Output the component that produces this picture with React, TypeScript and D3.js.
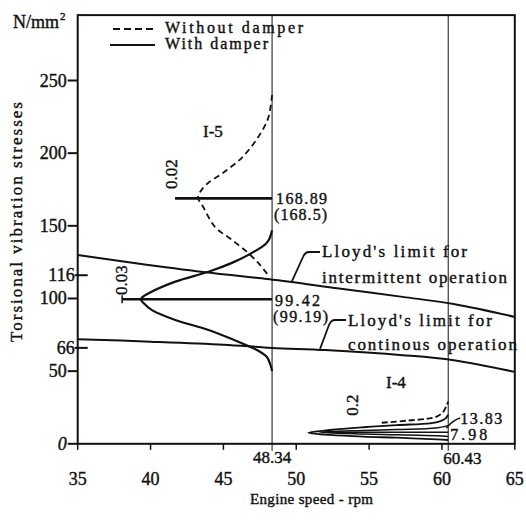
import React from 'react';
import * as d3 from 'd3';

// ---- data ----
const xTicks = [35, 40, 45, 50, 55, 60, 65];
const yTicks = [0, 50, 100, 150, 200, 250];
const yMarks = [66, 116];
const resonanceSpeeds = [48.34, 60.43];

// I-5 order, without damper (dashed)
const i5WithoutRpm = [48.34, 48.07, 47.38, 46.28, 44.91, 43.95, 43.4, 43.26, 43.54, 44.43, 45.59, 46.69, 47.51, 48.07, 48.2];
const i5WithoutStress = [240, 224, 211, 197, 186, 179.5, 173.3, 169, 164.3, 149.2, 140.3, 131.4, 123.1, 116.2, 115];

// I-5 order, with damper (solid)
const i5WithRpm = [48.34, 48.15, 47.9, 46.72, 45.59, 43.98, 41.7, 39.87, 39.41, 39.33, 39.5, 40.1, 41.7, 43.98, 46.27, 47.3, 47.97, 48.27, 48.34];
const i5WithStress = [147, 141, 137.5, 130, 124.5, 118.4, 111.6, 103.6, 100.6, 99.42, 97, 92, 85.2, 78.3, 69.2, 64.6, 59.9, 53, 50];

// I-4 order, without damper (dashed)
const i4WithoutRpm = [55.87, 57.58, 59.0, 59.64, 60.1, 60.33, 60.43];
const i4WithoutStress = [14.5, 15.9, 17.3, 18.7, 22.1, 26.7, 29];

// I-4 order, with damper (solid, outer and inner)
const i4OuterRpm = [60.43, 60.25, 59.9, 59.18, 56.9, 54.61, 52.32, 50.83, 52.32, 54.61, 56.9, 59.64, 60.43];
const i4OuterStress = [20, 17.5, 15.6, 14.1, 12.9, 11.4, 9.5, 7.6, 6.1, 4.9, 4.2, 3.1, 2.6];
const i4InnerRpm = [60.43, 59.6, 56.9, 54.6, 51.6, 54.6, 56.9, 59.6, 60.43];
const i4InnerStress = [12.5, 10.8, 9.8, 9.2, 8.0, 6.8, 6.3, 5.6, 5.0];

// peak stress marks
const peakStress = [168.89, 99.42, 7.98];
const peakStartRpm = [41.68, 38.05, 52.3];
const peakEndRpm = [48.34, 48.34, 60.43];
const peakLabels = ['168.89', '99.42', '7.98'];
const peakLabelsWithout = ['(168.5)', '(99.19)'];

// Lloyd's limits
const lloydIntRpm = [35, 39, 43.6, 48, 49.7, 52.8, 57.3, 60.8, 65];
const lloydIntStress = [129.9, 124.2, 118.2, 113.4, 111.4, 107, 101.1, 96.2, 87.3];
const lloydContRpm = [35, 40, 45, 48.34, 52, 57.3, 60.8, 65];
const lloydContStress = [72, 70.3, 68.2, 66, 64.5, 61, 57.5, 49.5];

const FONT = "'Liberation Serif', 'Times New Roman', serif";
const INK = '#111';

const zip = (a: number[], b: number[]): [number, number][] => a.map((v, i) => [v, b[i]]);

export default function App() {
  const x = d3.scaleLinear().domain([35, 65]).range([77.7, 514.8]);
  const y = d3.scaleLinear().domain([0, 250]).range([443.8, 80.5]);
  const yTop = 295;
  const line = d3
    .line<[number, number]>()
    .x((d) => x(d[0]))
    .y((d) => y(d[1]))
    .curve(d3.curveCatmullRom.alpha(0.5));

  const x0 = x(35);
  const x1 = x(65);
  const yb = y(0);
  const yt = y(yTop);
  const r1 = x(resonanceSpeeds[0]);
  const r2 = x(resonanceSpeeds[1]);

  const base = { fontFamily: FONT, fill: INK, stroke: INK, strokeWidth: 0.4 };
  const txt = (props: any, s: string) => (
    <text {...base} {...props}>
      {s}
    </text>
  );
  const rot = (cx: number, cy: number, s: string) => (
    <text {...base} fontSize={17} textAnchor="middle" dominantBaseline="central" transform={`translate(${cx},${cy}) rotate(-90)`}>
      {s}
    </text>
  );

  return (
    <svg
      width={526}
      height={520}
      style={{ position: 'absolute', left: 0, top: 0, background: '#fff' }}
    >
      {/* resonance verticals */}
      {resonanceSpeeds.map((s) => (
        <line key={s} x1={x(s)} x2={x(s)} y1={yt} y2={yb + 7} stroke={INK} strokeWidth={1} />
      ))}

      {/* frame */}
      <rect x={x0} y={yt} width={x1 - x0} height={yb - yt} fill="none" stroke={INK} strokeWidth={2} />

      {/* y ticks */}
      {yTicks.map((t) => (
        <g key={t}>
          <line x1={x0 - 10} x2={x0} y1={y(t)} y2={y(t)} stroke={INK} strokeWidth={2} />
          {txt({ x: x0 - 11, y: y(t) + 6, textAnchor: 'end', fontSize: 18, fontStyle: t === 0 ? 'italic' : 'normal' }, String(t))}
        </g>
      ))}
      {yMarks.map((t) => (
        <g key={t}>
          <line x1={x0 - 3} x2={x0 + 10} y1={y(t)} y2={y(t)} stroke={INK} strokeWidth={2} />
          {txt({ x: x0 - 3, y: y(t) + 6, textAnchor: 'end', fontSize: 18 }, String(t))}
        </g>
      ))}

      {/* x ticks */}
      {xTicks.map((t) => (
        <g key={t}>
          <line x1={x(t)} x2={x(t)} y1={yb} y2={yb + 6} stroke={INK} strokeWidth={1.5} />
          {txt({ x: x(t), y: 485, textAnchor: 'middle', fontSize: 18 }, String(t))}
        </g>
      ))}
      {txt({ x: r1, y: 463, textAnchor: 'middle', fontSize: 17 }, '48.34')}
      {txt({ x: r2 - 5, y: 464, fontSize: 17 }, '60.43')}

      {/* axis titles */}
      {txt({ x: 250, y: 504, fontSize: 15, textLength: 123, lengthAdjust: 'spacing' }, 'Engine speed - rpm')}
      <text
        {...base}
        fontSize={17}
        textAnchor="middle"
        transform={`translate(22,222) rotate(-90)`}
        textLength={240}
        lengthAdjust="spacing"
      >
        Torsional vibration stresses
      </text>
      <text {...base} x={13} y={28} fontSize={18}>
        N/mm
        <tspan fontSize={11} dy={-8} dx={1}>2</tspan>
      </text>

      {/* legend */}
      <line x1={113} x2={153} y1={29} y2={29} stroke={INK} strokeWidth={2} strokeDasharray="7 4" />
      <line x1={110} x2={155} y1={45} y2={45} stroke={INK} strokeWidth={2} />
      {txt({ x: 165, y: 33, fontSize: 16, textLength: 138, lengthAdjust: 'spacing' }, 'Without damper')}
      {txt({ x: 165, y: 49, fontSize: 16, textLength: 103, lengthAdjust: 'spacing' }, 'With damper')}

      {/* Lloyd's limits */}
      <path d={line(zip(lloydIntRpm, lloydIntStress)) || ''} fill="none" stroke={INK} strokeWidth={2} />
      <path d={line(zip(lloydContRpm, lloydContStress)) || ''} fill="none" stroke={INK} strokeWidth={2} />
      <path d="M 320 252 L 309 252 Q 305 252 303 257 L 292 281" fill="none" stroke={INK} strokeWidth={1.8} />
      <path d="M 346 320 L 335 320 Q 331 320 329 325 L 320 349" fill="none" stroke={INK} strokeWidth={1.8} />
      {txt({ x: 322, y: 257, fontSize: 17, textLength: 145, lengthAdjust: 'spacing' }, "Lloyd's limit for")}
      {txt({ x: 322, y: 283, fontSize: 17, textLength: 185, lengthAdjust: 'spacing' }, 'intermittent operation')}
      {txt({ x: 348, y: 326, fontSize: 17, textLength: 144, lengthAdjust: 'spacing' }, "Lloyd's limit for")}
      {txt({ x: 348, y: 350, fontSize: 17, textLength: 169, lengthAdjust: 'spacing' }, 'continous operation')}

      {/* I-5 curves */}
      <path d={line(zip(i5WithoutRpm, i5WithoutStress)) || ''} fill="none" stroke={INK} strokeWidth={1.8} strokeDasharray="6 4" />
      <path d={line(zip(i5WithRpm, i5WithStress)) || ''} fill="none" stroke={INK} strokeWidth={2.2} />

      {/* I-4 curves */}
      <path d={line(zip(i4WithoutRpm, i4WithoutStress)) || ''} fill="none" stroke={INK} strokeWidth={1.8} strokeDasharray="6 3" />
      <path d={line(zip(i4OuterRpm, i4OuterStress)) || ''} fill="none" stroke={INK} strokeWidth={1.8} />
      <path d={line(zip(i4InnerRpm, i4InnerStress)) || ''} fill="none" stroke={INK} strokeWidth={1.5} />

      {/* peak lines */}
      {peakStress.map((s, i) => (
        <line
          key={s}
          x1={x(peakStartRpm[i])}
          x2={x(peakEndRpm[i])}
          y1={y(s)}
          y2={y(s)}
          stroke={INK}
          strokeWidth={i < 2 ? 2.6 : 1.5}
        />
      ))}
      <line x1={x(peakStartRpm[1])} x2={x(peakStartRpm[1])} y1={y(peakStress[1]) - 4} y2={y(peakStress[1]) + 4} stroke={INK} strokeWidth={1.5} />

      {/* peak labels */}
      {txt({ x: r1 + 4, y: y(peakStress[0]) + 6, fontSize: 16, textLength: 51, lengthAdjust: 'spacing' }, peakLabels[0])}
      {txt({ x: r1 + 2, y: y(peakStress[0]) + 22, fontSize: 16, textLength: 53, lengthAdjust: 'spacing' }, peakLabelsWithout[0])}
      {txt({ x: r1 + 3, y: y(peakStress[1]) + 7, fontSize: 16, textLength: 45, lengthAdjust: 'spacing' }, peakLabels[1])}
      {txt({ x: r1 + 1, y: y(peakStress[1]) + 23, fontSize: 16, textLength: 55, lengthAdjust: 'spacing' }, peakLabelsWithout[1])}
      {txt({ x: r2 + 2, y: 440, fontSize: 16, textLength: 37, lengthAdjust: 'spacing' }, peakLabels[2])}
      {txt({ x: r2 + 12, y: 424, fontSize: 16, textLength: 42, lengthAdjust: 'spacing' }, '13.83')}
      <path d={`M ${r2 + 12} 418 Q ${r2 + 5} 420 ${r2 - 2} 428`} fill="none" stroke={INK} strokeWidth={1.5} />

      {/* order labels and damping */}
      {txt({ x: 203, y: 137, fontSize: 17 }, 'I-5')}
      {txt({ x: 386, y: 388, fontSize: 17 }, 'I-4')}
      {rot(171, 174, '0.02')}
      {rot(121, 280, '0.03')}
      {rot(352, 405, '0.2')}
    </svg>
  );
}
